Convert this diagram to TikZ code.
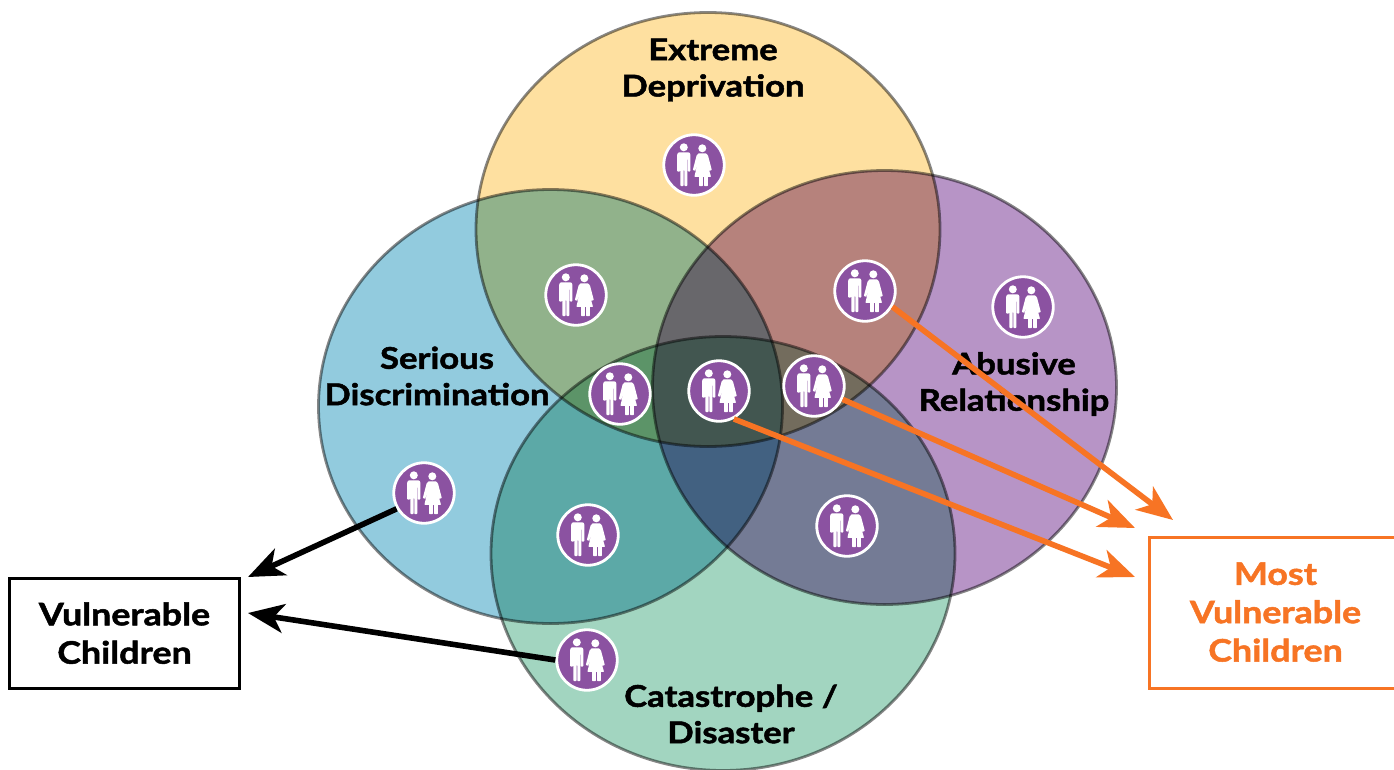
\documentclass[tikz,border=0pt]{standalone}
\usepackage{fontspec}
\setmainfont{Lato}[BoldFeatures={FakeBold=1.6,FakeStretch=1.16}]
\usetikzlibrary{arrows.meta}
\definecolor{cYellow}{RGB}{254,224,160}
\definecolor{cBlue}{RGB}{146,203,222}
\definecolor{cPurple}{RGB}{183,148,198}
\definecolor{cGreen}{RGB}{162,213,192}
\definecolor{cIcon}{RGB}{139,82,161}
\definecolor{cOrange}{RGB}{247,116,36}
\tikzset{
  x=1bp,y=-1bp,
  venn/.style={fill=#1,blend mode=multiply},
  vennrim/.style={draw=black,draw opacity=0.47,line width=2.8bp},
  lbl/.style={font=\fontsize{30}{36.5}\selectfont\bfseries,align=center,text=black,inner sep=0pt},
  boxlbl/.style={font=\fontsize{31}{38.5}\selectfont\bfseries,align=center,inner sep=0pt},
  iconbase/.style={circle,fill=cIcon,draw=white,line width=2.8bp,minimum size=60.5bp,inner sep=0pt},
  blackarrow/.style={draw=black,line width=5.6bp,-{Stealth[length=36bp,width=29bp,inset=10bp]}},
  orangearrow/.style={draw=cOrange,line width=5.6bp,-{Stealth[length=36bp,width=29bp,inset=10bp]}},
  couple/.pic={
    \fill[white] (-10.2,-17.7) circle[radius=4];
    \fill[white] (8.3,-16.7) circle[radius=4];
    \fill[white,rounded corners=0.7]
      (-15.4,-12.7) -- (-5,-12.7) -- (-3.6,-11) -- (-3.6,6.5) -- (-6.2,6.5) -- (-6.2,-6) -- (-6.6,-6)
      -- (-6.6,21) -- (-9.7,21) -- (-9.7,5) -- (-10.5,5) -- (-10.5,21) -- (-13.6,21) -- (-13.6,-6)
      -- (-14,-6) -- (-14,6.5) -- (-16.8,6.5) -- (-16.8,-11) -- cycle;
    \fill[white,rounded corners=0.5]
      (4.6,-11.7) -- (12,-11.7) -- (14,-9.5) -- (17.8,5) -- (15.4,5.8) -- (12.6,-4)
      -- (17,11.8) -- (13.8,11.8) -- (13.8,21) -- (10.2,21) -- (10.2,11.8) -- (8.8,11.8) -- (8.8,21)
      -- (5.2,21) -- (5.2,11.8) -- (0.4,11.8) -- (4,-4) -- (1.2,5.8) -- (-1.2,5) -- (2.6,-9.5) -- cycle;
  }
}
\newcommand{\iconat}[2]{\node[iconbase] (#1) at (#2) {}; \pic at (#2) {couple};}
\begin{document}
\begin{tikzpicture}
\useasboundingbox (0,0) rectangle (1394,769);
\fill[white] (0,0) rectangle (1394,769);
\clip (0,0) rectangle (1394,769);
\begin{scope}[transparency group]
\fill[white] (0,0) rectangle (1394,769);
\path[venn=cYellow] (708,229.5) ellipse[x radius=232,y radius=217];
\path[venn=cBlue] (550.5,406.5) ellipse[x radius=232,y radius=217];
\path[venn=cPurple] (884.5,387.5) ellipse[x radius=232,y radius=217];
\path[venn=cGreen] (723,553.5) ellipse[x radius=232,y radius=217];
\end{scope}
\path[vennrim] (708,229.5) ellipse[x radius=232,y radius=217];
\path[vennrim] (550.5,406.5) ellipse[x radius=232,y radius=217];
\path[vennrim] (884.5,387.5) ellipse[x radius=232,y radius=217];
\path[vennrim] (723,553.5) ellipse[x radius=232,y radius=217];
\node[lbl] (t1) at (713,70) {Extreme\\Deprivation};
\node[lbl] (t2) at (437,376) {Serious\\Discrimination};
\node[lbl] (t3) at (1014,384) {Abusive\\Relationship};
\node[lbl] (t4) at (731,714) {Catastrophe /\\Disaster};
\node[boxlbl,draw=black,line width=3bp,minimum width=230bp,minimum height=110bp,text=black] (vc) at (124.5,633.5) {\raisebox{1bp}{Vulnerable}\\\raisebox{1bp}{Children}};
\node[boxlbl,draw=cOrange,line width=3bp,minimum width=256bp,minimum height=151bp,text=cOrange,text width=252bp] (mv) at (1277.5,613) {\hspace*{-4bp}\raisebox{2bp}{Most}\\\hspace*{-4bp}\raisebox{2bp}{Vulnerable}\\\hspace*{-4bp}\raisebox{2bp}{Children}};
\iconat{a}{694,165}
\iconat{b}{576,295}
\iconat{c}{865,291}
\iconat{d}{1023,307}
\iconat{e}{620,394}
\iconat{f}{719,391}
\iconat{g}{814,386}
\iconat{h}{424,493}
\iconat{i}{588,535}
\iconat{j}{847,526}
\iconat{k}{587,660}
\coordinate (v1) at (248,577);
\coordinate (v2) at (248,613);
\coordinate (m1) at (1173,520);
\coordinate (m2) at (1135,528);
\coordinate (m3) at (1135,577);
\draw[blackarrow] (h.210) -- (v1);
\draw[blackarrow] (k.180) -- (v2);
\draw[orangearrow] (c.-30) -- (m1);
\draw[orangearrow] (g.-25) -- (m2);
\draw[orangearrow] (f.-62) -- (m3);
\end{tikzpicture}
\end{document}
